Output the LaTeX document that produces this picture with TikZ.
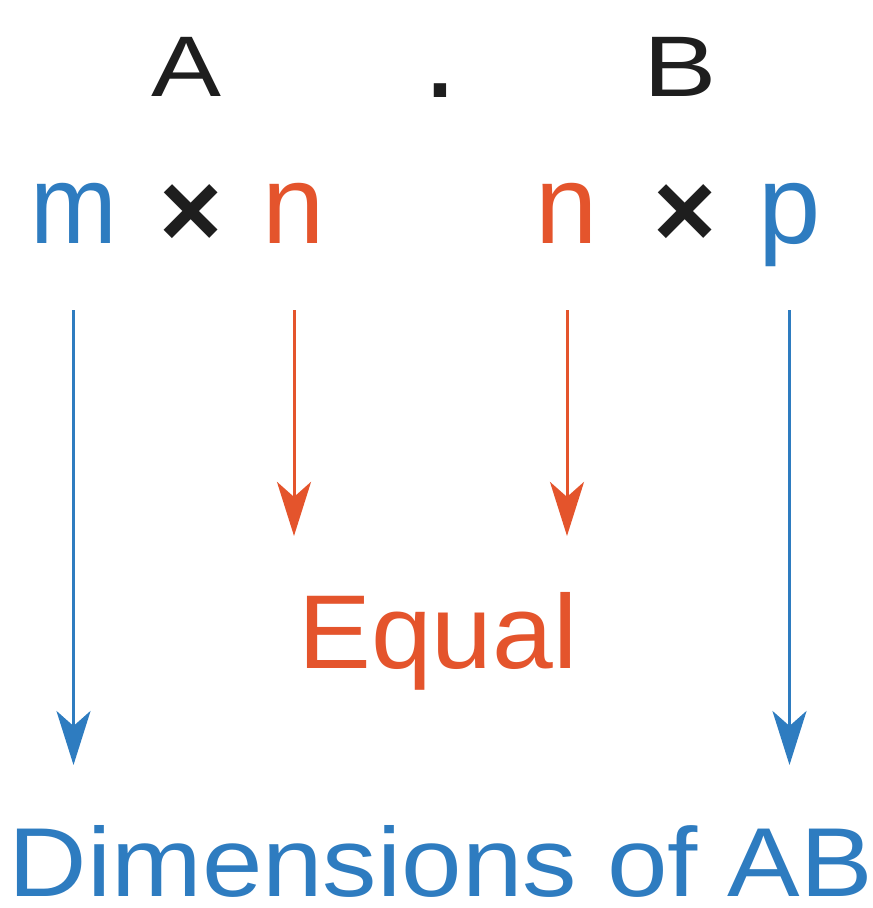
\documentclass[tikz,border=0pt]{standalone}
\usepackage{fontspec}
\setmainfont{Liberation Sans}
\usetikzlibrary{arrows.meta}
\definecolor{dimblue}{RGB}{46,124,192}
\definecolor{eqred}{RGB}{228,84,44}
\definecolor{inkgray}{RGB}{30,30,30}
\begin{document}
\begin{tikzpicture}[x=1pt,y=-1pt,
  glyph/.style={inner sep=0pt, outer sep=0pt, anchor=base},
  toprow/.style={glyph, text=inkgray, font=\fontsize{86}{86}\selectfont},
  dimrow/.style={glyph, font=\fontsize{112}{112}\selectfont},
  timesrow/.style={glyph, text=inkgray, font=\fontsize{108}{108}\selectfont\bfseries},
  arrowline/.style={line width=3pt, -{Stealth[length=54pt,width=34pt,inset=15pt]}},
  bluearrow/.style={arrowline, draw=dimblue, fill=dimblue},
  redarrow/.style={arrowline, draw=eqred, fill=eqred}
]
\useasboundingbox[fill=white] (0,0) rectangle (873,908);

% top row
\node[toprow] (A)   at (186,96) {\scalebox{1.22}[1]{A}};
\node[toprow] (dot) at (440,97) {\scalebox{1.5}{.}};
\node[toprow] (B)   at (680,96) {\scalebox{1.28}[1]{B}};

% dimensions row
\node[dimrow, text=dimblue] (m)  at (73.5,243) {\scalebox{0.93}[1]{m}};
\node[timesrow]             (x1) at (191.5,247) {×};
\node[dimrow, text=eqred]   (n1) at (294,243) {n};
\node[dimrow, text=eqred]   (n2) at (567,243) {n};
\node[timesrow]             (x2) at (685.5,247) {×};
\node[dimrow, text=dimblue] (p)  at (789.5,243) {p};

% labels
\node[glyph, text=eqred, font=\fontsize{105}{105}\selectfont] (equal) at (438,668) {\scalebox{1.04}[1]{Equal}};
\node[glyph, text=dimblue, font=\fontsize{98}{98}\selectfont] (dims) at (441,896) {\scalebox{1.11}[1]{Dimensions of AB}};

% arrows
\draw[bluearrow, shorten <=67pt, shorten >=60pt] (m.base) -- (m.base |- dims.north);
\draw[bluearrow, shorten <=67pt, shorten >=60pt] (p.base) -- (p.base |- dims.north);
\draw[redarrow, shorten <=67pt, shorten >=56pt] (n1.base) -- (n1.base |- equal.north);
\draw[redarrow, shorten <=67pt, shorten >=56pt] (n2.base) -- (n2.base |- equal.north);
\end{tikzpicture}
\end{document}
